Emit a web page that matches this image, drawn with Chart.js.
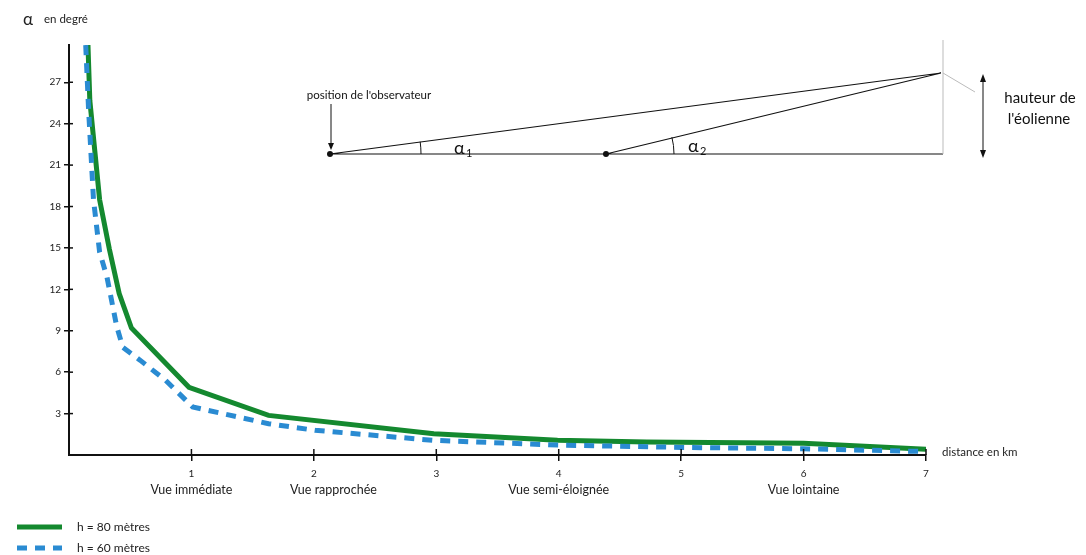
<!DOCTYPE html>
<html>
<head>
<meta charset="utf-8">
<script src="https://cdn.jsdelivr.net/npm/chart.js@4.4.0/dist/chart.umd.min.js"></script>
<style>
  body { margin: 0; background: #fff; }
  #wrap { width: 1086px; height: 555px; }
</style>
</head>
<body>
<div id="wrap"><canvas id="angleChart"></canvas></div>
<script>
// valeurs (distance en km, angle en degrés)
const distances80 = [0.15, 0.17, 0.21, 0.25, 0.33, 0.41, 0.51, 0.98, 1.63, 2.98, 3.99, 4.72, 5.5, 6.0, 7.0];
const angles80    = [31, 25.7, 22.1, 18.5, 14.9, 11.7, 9.2, 4.9, 2.87, 1.54, 1.06, 0.94, 0.88, 0.85, 0.42];
const distances60 = [0.13, 0.16, 0.2, 0.25, 0.31, 0.39, 0.44, 0.58, 0.79, 1.01, 1.63, 2.01, 2.98, 3.99, 5.0, 6.0, 7.0];
const angles60    = [31, 25, 18.5, 14.7, 12.9, 9.3, 7.8, 6.87, 5.4, 3.48, 2.27, 1.79, 1.06, 0.72, 0.55, 0.45, 0.25];
const zoneLabels = ['Vue immédiate', 'Vue rapprochée', 'Vue semi-éloignée', 'Vue lointaine'];
const zoneAt = [1, 2.16, 4, 6];
const seriesLabels = ['h = 80 mètres', 'h = 60 mètres'];

const FONT = 'Lato, "Open Sans", sans-serif';

const pts = (xs, ys) => xs.map((x, i) => ({ x: x, y: ys[i] }));
const hideZero = ctx => (ctx.tick && ctx.tick.value === 0) ? 'rgba(0,0,0,0)' : '#111';

// petits traits de graduation côté intérieur + textes + schéma
const extras = {
  id: 'extras',
  afterDraw(chart) {
    const c = chart.ctx;
    const xs = chart.scales.x, ys = chart.scales.y;
    const area = chart.chartArea;
    c.save();
    c.strokeStyle = '#111';
    c.lineWidth = 1.5;
    ys.ticks.forEach(t => {
      if (t.value === 0) return;
      const y = ys.getPixelForValue(t.value);
      c.beginPath(); c.moveTo(area.left, y); c.lineTo(area.left + 4, y); c.stroke();
    });
    xs.ticks.forEach(t => {
      if (t.value === 0) return;
      const x = xs.getPixelForValue(t.value);
      c.beginPath(); c.moveTo(x, area.bottom); c.lineTo(x, area.bottom - 6); c.stroke();
    });

    // noms des zones
    c.fillStyle = '#222';
    c.font = '12.5px ' + FONT;
    c.textAlign = 'center';
    c.textBaseline = 'middle';
    zoneLabels.forEach((l, i) => c.fillText(l, xs.getPixelForValue(zoneAt[i]), 490));

    // titres des axes
    c.textAlign = 'left';
    c.font = '11.5px ' + FONT;
    c.fillText('distance en km', area.right + 16, area.bottom - 3);
    c.font = '17px ' + FONT;
    c.fillText('α', 23, 20);
    c.font = '11.5px ' + FONT;
    c.fillText('en degré', 44, 19);

    // légende
    chart.data.datasets.forEach((ds, i) => {
      const y = 527 + i * 21;
      c.strokeStyle = ds.borderColor;
      c.lineWidth = ds.borderWidth;
      c.setLineDash(ds.borderDash || []);
      c.beginPath(); c.moveTo(17, y); c.lineTo(62, y); c.stroke();
      c.setLineDash([]);
      c.fillStyle = '#222';
      c.font = '12px ' + FONT;
      c.fillText(ds.label, 77, y);
    });

    // schéma de l'observateur et de l'éolienne
    c.strokeStyle = '#111';
    c.lineWidth = 1.2;
    c.beginPath();
    c.moveTo(330, 154); c.lineTo(943, 154);
    c.moveTo(330, 154); c.lineTo(941, 73);
    c.moveTo(606, 154); c.lineTo(941, 73);
    c.stroke();
    c.strokeStyle = '#bbb';
    c.lineWidth = 1;
    c.beginPath();
    c.moveTo(943, 154); c.lineTo(943, 40);
    c.moveTo(943, 73); c.lineTo(975, 92);
    c.stroke();
    c.fillStyle = '#111';
    [330, 606].forEach(x => { c.beginPath(); c.arc(x, 154, 3, 0, Math.PI * 2); c.fill(); });
    // arcs d'angle
    c.strokeStyle = '#111';
    c.lineWidth = 1;
    c.beginPath(); c.arc(330, 154, 91, -0.135, 0); c.stroke();
    c.beginPath(); c.arc(606, 154, 68, -0.25, 0); c.stroke();
    c.font = '18px ' + FONT;
    c.fillText('α', 454, 148);
    c.fillText('α', 688, 146);
    c.font = '11px ' + FONT;
    c.fillText('1', 466, 153);
    c.fillText('2', 700, 151);
    // flèche observateur
    c.font = '11.5px ' + FONT;
    c.textAlign = 'center';
    c.fillText("position de l'observateur", 369, 95);
    c.beginPath(); c.moveTo(331, 104); c.lineTo(331, 148); c.stroke();
    c.beginPath(); c.moveTo(328, 143); c.lineTo(331, 150); c.lineTo(334, 143); c.fill();
    // flèche hauteur
    c.beginPath(); c.moveTo(983, 78); c.lineTo(983, 154); c.stroke();
    c.beginPath(); c.moveTo(980, 82); c.lineTo(983, 74); c.lineTo(986, 82); c.fill();
    c.beginPath(); c.moveTo(980, 150); c.lineTo(983, 158); c.lineTo(986, 150); c.fill();
    c.font = '15px ' + FONT;
    c.fillText('hauteur de', 1040, 98);
    c.fillText("l'éolienne", 1039, 119);
    c.restore();
  }
};

new Chart(document.getElementById('angleChart'), {
  type: 'line',
  data: {
    datasets: [
      {
        label: seriesLabels[0],
        data: pts(distances80, angles80),
        borderColor: '#14892f',
        borderWidth: 5,
        tension: 0,
        pointRadius: 0,
        fill: false,
        order: 1
      },
      {
        label: seriesLabels[1],
        data: pts(distances60, angles60),
        borderColor: '#2a8bd2',
        borderWidth: 5,
        borderDash: [10, 8],
        tension: 0,
        pointRadius: 0,
        fill: false,
        order: 0
      }
    ]
  },
  options: {
    responsive: true,
    maintainAspectRatio: false,
    animation: false,
    layout: { padding: { top: 45, right: 160, left: 0, bottom: 0 } },
    plugins: { legend: { display: false }, tooltip: { enabled: false } },
    scales: {
      x: {
        type: 'linear',
        min: 0, max: 7,
        afterFit: s => { s.height = 100; },
        border: { display: true, color: '#111', width: 2 },
        grid: { drawOnChartArea: false, drawTicks: true, tickLength: 6, color: hideZero, lineWidth: 1.5 },
        ticks: {
          stepSize: 1, includeBounds: false, padding: 7,
          color: '#222', font: { size: 10, family: FONT },
          callback: v => v === 0 ? '' : v
        }
      },
      y: {
        min: 0, max: 29.7,
        afterFit: s => { s.width = 69; },
        border: { display: true, color: '#111', width: 2 },
        grid: { drawOnChartArea: false, drawTicks: true, tickLength: 5, color: hideZero, lineWidth: 1.5 },
        ticks: {
          stepSize: 3, includeBounds: false, padding: 3,
          color: '#222', font: { size: 10, family: FONT },
          callback: v => v === 0 ? '' : v
        }
      }
    }
  },
  plugins: [extras]
});
</script>
</body>
</html>
